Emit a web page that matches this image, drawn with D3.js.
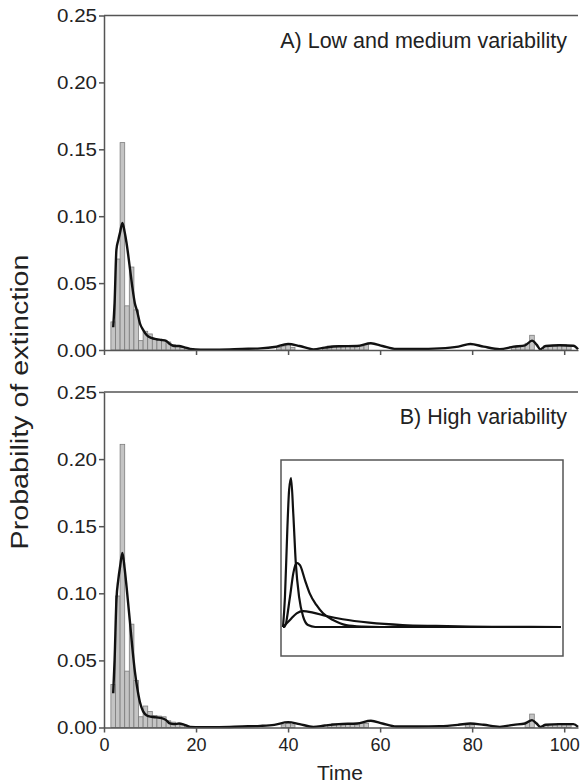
<!DOCTYPE html>
<html>
<head>
<meta charset="utf-8">
<script src="https://cdn.jsdelivr.net/npm/d3@7"></script>
<style>
  body { margin: 0; background: #fff; }
  svg { display: block; }
  text { font-family: "Liberation Sans", Arial, Helvetica, sans-serif; fill: #222; }
</style>
</head>
<body>
<div id="chart"></div>
<script>
// histogram bars (time step, probability)
const barTimesA = [2, 3, 4, 5, 6, 7, 8, 9, 10, 11, 12, 13, 14, 15, 16, 17, 18, 19,
  38, 39, 40, 41, 48, 49, 50, 51, 52, 53, 54, 55, 56, 57, 89, 90, 91, 92, 93, 96, 97, 98, 99, 100, 101];
const barValuesA = [0.021, 0.068, 0.155, 0.033, 0.062, 0.030, 0.007, 0.014, 0.012, 0.008, 0.008, 0.007, 0.006, 0.004, 0.003, 0.002, 0.001, 0.001,
  0.002, 0.003, 0.004, 0.002, 0.002, 0.003, 0.003, 0.003, 0.003, 0.003, 0.003, 0.003, 0.003, 0.004, 0.002, 0.003, 0.003, 0.005, 0.011, 0.003, 0.003, 0.003, 0.004, 0.004, 0.003];

const barTimesB = [2, 3, 4, 5, 6, 7, 8, 9, 10, 11, 12, 13, 14, 15, 16, 17, 18,
  39, 40, 41, 49, 50, 51, 52, 53, 54, 55, 56, 57, 79, 80, 92, 93, 96, 97, 98, 99, 100, 101];
const barValuesB = [0.032, 0.098, 0.211, 0.042, 0.077, 0.035, 0.008, 0.016, 0.012, 0.009, 0.0085, 0.008, 0.005, 0.004, 0.003, 0.002, 0.001,
  0.002, 0.003, 0.002, 0.002, 0.003, 0.003, 0.003, 0.003, 0.003, 0.002, 0.003, 0.003, 0.002, 0.002, 0.004, 0.010, 0.002, 0.002, 0.002, 0.003, 0.002, 0.002];

// smoothed curves
const lineTimesA = [2, 2.3, 2.7, 3.1, 3.5, 4, 4.5, 4.9, 5.6, 6.2, 6.7, 7.2, 7.8, 8.5, 9.3, 10.3, 11.4, 12.5, 13.5, 14.3, 15.2, 16.3, 17.5, 18.7,
  21, 25, 30, 34, 37, 40, 42.5, 45.5, 48, 51, 55, 58, 60.5, 63.5, 68, 73, 77, 79.6, 82.5, 86, 89, 91.5, 93, 94, 94.8, 96, 99, 102, 103];
const lineValuesA = [0.017, 0.035, 0.075, 0.082, 0.088, 0.095, 0.088, 0.080, 0.062, 0.046, 0.035, 0.029, 0.020, 0.015, 0.011, 0.009, 0.008, 0.0075, 0.0068, 0.0045, 0.003, 0.003, 0.002, 0.0008,
  0.0003, 0.0003, 0.0008, 0.0012, 0.0022, 0.0045, 0.003, 0.0005, 0.0018, 0.0028, 0.003, 0.005, 0.003, 0.0008, 0.0008, 0.0012, 0.0025, 0.0045, 0.0025, 0.0006, 0.0025, 0.0035, 0.007, 0.004, 0.0005, 0.003, 0.0035, 0.0032, 0.0005];

const lineTimesB = [2, 2.3, 2.7, 3.1, 3.5, 4, 4.5, 4.9, 5.6, 6.2, 6.7, 7.2, 7.8, 8.5, 9.3, 10.3, 11.4, 12.5, 13.5, 14.3, 15.2, 16.3, 17.5, 18.7,
  21, 25, 30, 34, 37, 40, 42.5, 45.5, 48, 51, 55, 58, 60.5, 63.5, 68, 73, 77, 79.6, 82.5, 86, 89, 91.5, 93, 94, 94.8, 96, 99, 102, 103];
const lineValuesB = [0.0255, 0.05, 0.095, 0.110, 0.120, 0.130, 0.118, 0.105, 0.080, 0.058, 0.042, 0.030, 0.019, 0.012, 0.009, 0.008, 0.0075, 0.007, 0.0055, 0.003, 0.0025, 0.003, 0.002, 0.0005,
  0.0003, 0.0003, 0.0008, 0.0012, 0.002, 0.004, 0.0025, 0.0005, 0.0015, 0.0025, 0.003, 0.005, 0.003, 0.0008, 0.0008, 0.001, 0.002, 0.003, 0.002, 0.0005, 0.002, 0.003, 0.0055, 0.003, 0.0005, 0.002, 0.0025, 0.0025, 0.0005];

// inset: three schematic distributions (relative units)
const insetTallX = [0, 0.7, 1.55, 2.2, 2.9, 3.7, 4.6, 5.8, 7.25, 9, 11.6, 100];
const insetTallY = [0, 0.2, 0.65, 0.92, 1, 0.76, 0.43, 0.2, 0.07, 0.013, 0, 0];
const insetMidX = [0, 0.5, 2.5, 3.7, 4.9, 6.1, 7.9, 9.6, 12, 14.4, 18, 22.7, 28.6, 35, 100];
const insetMidY = [0, 0, 0.2, 0.36, 0.43, 0.415, 0.315, 0.226, 0.148, 0.092, 0.047, 0.013, 0.003, 0, 0];
const insetLowX = [0, 2.5, 4.9, 7.3, 10.8, 15.6, 21.5, 31, 43, 55, 67, 80, 100];
const insetLowY = [0, 0.047, 0.092, 0.107, 0.096, 0.074, 0.052, 0.029, 0.013, 0.007, 0.003, 0.001, 0];

const yTicks = [0, 0.05, 0.1, 0.15, 0.2, 0.25];
const xTicks = [0, 20, 40, 60, 80, 100];

const width = 581, height = 784;
const svg = d3.select("#chart").append("svg").attr("width", width).attr("height", height);

const x = d3.scaleLinear().domain([0, 103]).range([104, 578]);
const axisColor = "#555";

function panel(y0, y1, times, values, lTimes, lValues, label, showLabels) {
  const y = d3.scaleLinear().domain([0, 0.25]).range([y0, y1]);
  const g = svg.append("g");

  g.append("g").selectAll("rect")
    .data(times.map((t, i) => ({ t, v: values[i] })))
    .join("rect")
    .attr("x", d => x(d.t - 0.5))
    .attr("width", d => x(d.t + 0.5) - x(d.t - 0.5))
    .attr("y", d => y(d.v))
    .attr("height", d => y(0) - y(d.v))
    .attr("fill", "#c4c4c4")
    .attr("stroke", "#7d7d7d")
    .attr("stroke-width", 0.8);

  const line = d3.line().x(d => x(d[0])).y(d => y(d[1])).curve(d3.curveMonotoneX);
  g.append("path")
    .datum(lTimes.map((t, i) => [t, lValues[i]]))
    .attr("d", line)
    .attr("fill", "none")
    .attr("stroke", "#111")
    .attr("stroke-width", 2.4)
    .attr("stroke-linejoin", "round");

  const ya = g.append("g").attr("transform", `translate(${x(0)},0)`)
    .call(d3.axisLeft(y).tickValues(yTicks).tickFormat(d3.format(".2f")).tickSize(5).tickSizeOuter(0));
  const xa = g.append("g").attr("transform", `translate(0,${y(0)})`)
    .call(d3.axisBottom(x).tickValues(xTicks).tickSize(5).tickSizeOuter(0)
      .tickFormat(showLabels ? d3.format("d") : () => ""));
  [ya, xa].forEach(a => {
    a.selectAll("path, line").attr("stroke", axisColor).attr("stroke-width", 1.5);
    a.selectAll("text").attr("fill", "#333")
      .attr("font-family", "'Liberation Sans', Arial, sans-serif");
  });
  ya.selectAll("text").attr("x", -7).attr("font-size", 19)
    .attr("textLength", 40).attr("lengthAdjust", "spacingAndGlyphs");
  xa.selectAll("text").attr("y", 11).attr("font-size", 18);

  g.append("line")
    .attr("x1", x(0)).attr("x2", x(103))
    .attr("y1", y(0.25)).attr("y2", y(0.25))
    .attr("stroke", axisColor).attr("stroke-width", 1.5);

  g.append("text")
    .attr("x", 567).attr("y", y(0.25) + 32)
    .attr("text-anchor", "end")
    .attr("font-size", 21.5)
    .text(label);
  return y;
}

panel(350, 15.5, barTimesA, barValuesA, lineTimesA, lineValuesA, "A) Low and medium variability", false);
panel(727.5, 392, barTimesB, barValuesB, lineTimesB, lineValuesB, "B) High variability", true);

// inset
const ix = d3.scaleLinear().domain([0, 100]).range([283, 561]);
const iy = d3.scaleLinear().domain([0, 1]).range([627, 478]);
svg.append("rect")
  .attr("x", 281).attr("y", 460).attr("width", 282).attr("height", 196)
  .attr("fill", "#fff").attr("stroke", axisColor).attr("stroke-width", 1.5);
const iline = d3.line().x(d => ix(d[0])).y(d => iy(d[1])).curve(d3.curveMonotoneX);
[[insetTallX, insetTallY], [insetMidX, insetMidY], [insetLowX, insetLowY]].forEach(([xs, ys]) => {
  svg.append("path")
    .datum(xs.map((v, i) => [v, ys[i]]))
    .attr("d", iline)
    .attr("fill", "none")
    .attr("stroke", "#111")
    .attr("stroke-width", 2.2);
});

svg.append("text")
  .attr("x", 340).attr("y", 780)
  .attr("text-anchor", "middle")
  .attr("font-size", 21)
  .text("Time");

svg.append("text")
  .attr("transform", "translate(28,402) rotate(-90)")
  .attr("text-anchor", "middle")
  .attr("font-size", 23)
  .attr("textLength", 295)
  .attr("lengthAdjust", "spacingAndGlyphs")
  .text("Probability of extinction");
</script>
</body>
</html>
